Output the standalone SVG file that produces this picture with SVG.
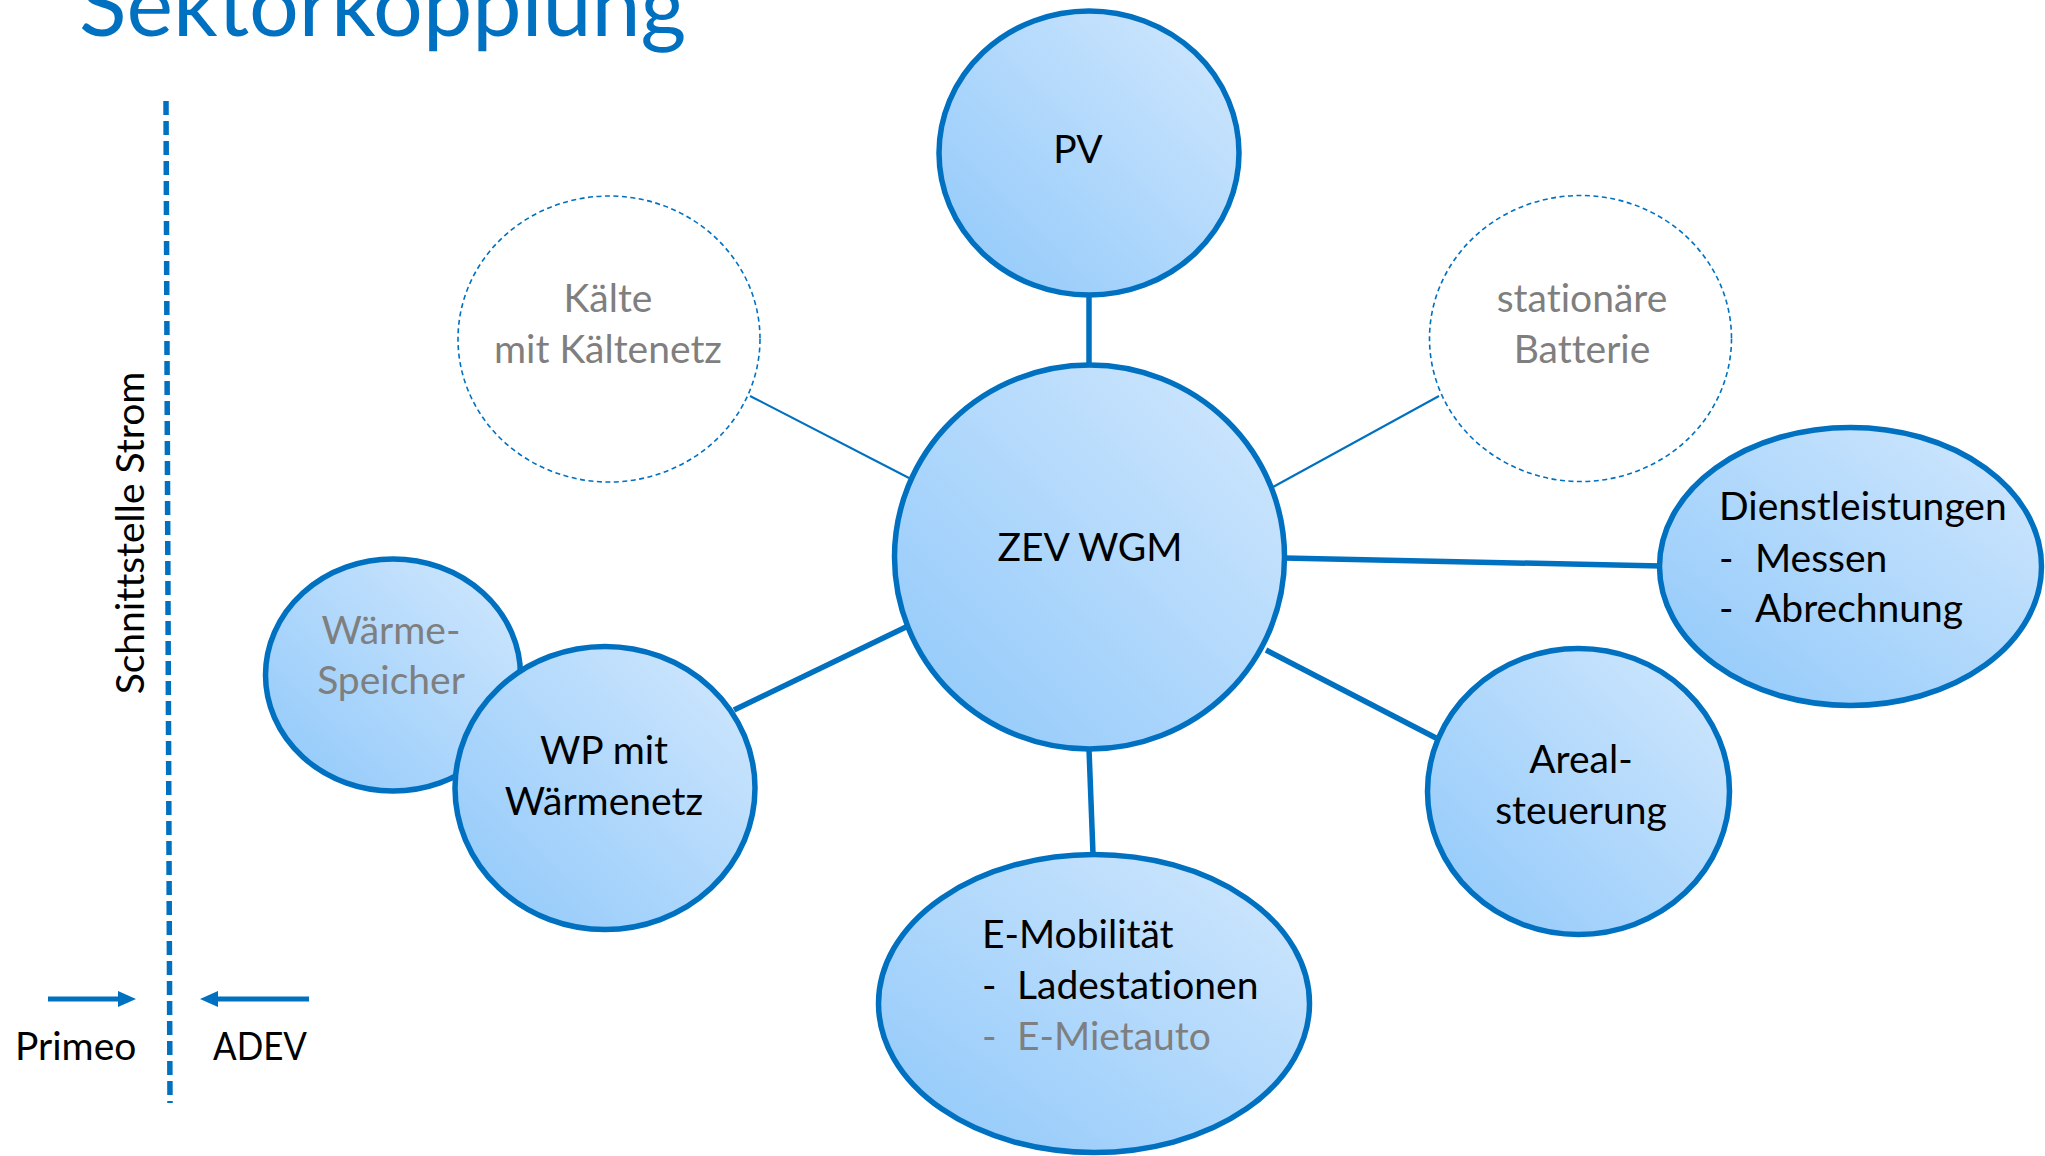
<svg xmlns="http://www.w3.org/2000/svg" width="2045" height="1156" viewBox="0 0 2045 1156">
<style>
text{font-family:Lato,"Liberation Sans",sans-serif;font-size:39px;fill:#000;font-variant-ligatures:none;font-feature-settings:"liga" 0}
.g{fill:#7F7F7F}
.c{text-anchor:middle}
.node{fill:url(#bubble);stroke:#0070C0;stroke-width:5.5}
.dash{fill:none;stroke:#0070C0;stroke-width:1.6;stroke-dasharray:5 3.5}
.thick{stroke:#0070C0;stroke-width:5.5;fill:none}
.thin{stroke:#0070C0;stroke-width:2;fill:none}
</style>
<defs>
<linearGradient id="bubble" x1="0" y1="1" x2="1" y2="0">
<stop offset="0" stop-color="#8FC8FA"/>
<stop offset="1" stop-color="#D2E8FD"/>
</linearGradient>
<marker id="arr" markerUnits="userSpaceOnUse" markerWidth="18" markerHeight="18" viewBox="0 0 18 18" refX="8" refY="9" orient="auto">
<path d="M0,1 L18,9 L0,17 z" fill="#0070C0"/>
</marker>
</defs>
<rect width="2045" height="1156" fill="#fff"/>
<text x="79" y="36" style="font-size:88px;fill:#0070C0">Sektorkopplung</text>

<g id="interface">
<line x1="166" y1="101" x2="170" y2="1103" stroke="#0070C0" stroke-width="5.5" stroke-dasharray="14 6"/>
<text transform="translate(144,533) rotate(-90)" class="c">Schnittstelle Strom</text>
<line x1="48" y1="999" x2="126" y2="999" stroke="#0070C0" stroke-width="5" marker-end="url(#arr)"/>
<line x1="309" y1="999" x2="210" y2="999" stroke="#0070C0" stroke-width="5" marker-end="url(#arr)"/>
<text x="15" y="1060">Primeo</text>
<text x="213" y="1060" textLength="94" lengthAdjust="spacingAndGlyphs">ADEV</text>
</g>

<g id="connectors">
<line class="thick" x1="1089" y1="295" x2="1089" y2="366"/>
<line class="thin" x1="750" y1="396" x2="909" y2="478"/>
<line class="thin" x1="1439" y1="396" x2="1273" y2="487"/>
<line class="thick" x1="1284" y1="558" x2="1661" y2="566"/>
<line class="thick" x1="1266" y1="650" x2="1436" y2="738"/>
<line class="thick" x1="1089" y1="749" x2="1093" y2="854"/>
<line class="thick" x1="906" y1="627" x2="734" y2="710"/>
</g>

<g id="pv">
<ellipse class="node" cx="1089" cy="153" rx="150" ry="142"/>
<text x="1078" y="163" class="c">PV</text>
</g>
<g id="zev">
<ellipse class="node" cx="1089.5" cy="557" rx="195" ry="192"/>
<text x="1090" y="561" class="c">ZEV WGM</text>
</g>
<g id="kaelte">
<ellipse class="dash" cx="609" cy="339" rx="151" ry="143"/>
<text x="608" y="312" class="c g">Kälte</text>
<text x="608" y="363" class="c g">mit Kältenetz</text>
</g>
<g id="batterie">
<ellipse class="dash" cx="1580.5" cy="338.5" rx="151" ry="143"/>
<text x="1582" y="312" class="c g">stationäre</text>
<text x="1582" y="363" class="c g">Batterie</text>
</g>
<g id="dienst">
<ellipse class="node" cx="1850.5" cy="566.5" rx="191" ry="139"/>
<text x="1719" y="520">Dienstleistungen</text>
<text x="1719" y="572">-</text>
<text x="1755" y="572">Messen</text>
<text x="1719" y="622">-</text>
<text x="1755" y="622">Abrechnung</text>
</g>
<g id="areal">
<ellipse class="node" cx="1578.5" cy="791.5" rx="151" ry="143"/>
<text x="1581" y="773" class="c">Areal-</text>
<text x="1581" y="824" class="c">steuerung</text>
</g>
<g id="emob">
<ellipse class="node" cx="1094" cy="1003.5" rx="215.5" ry="149"/>
<text x="982" y="948">E-Mobilität</text>
<text x="982" y="999">-</text>
<text x="1017" y="999">Ladestationen</text>
<text x="982" y="1050" class="g">-</text>
<text x="1017" y="1050" class="g">E-Mietauto</text>
</g>
<g id="waermespeicher">
<ellipse class="node" cx="393" cy="675" rx="127.5" ry="116"/>
<text x="391" y="644" class="c g">Wärme-</text>
<text x="391" y="694" class="c g">Speicher</text>
</g>
<g id="wp">
<ellipse class="node" cx="605" cy="788" rx="150" ry="141.5"/>
<text x="604" y="764" class="c">WP mit</text>
<text x="604" y="815" class="c">Wärmenetz</text>
</g>
</svg>
